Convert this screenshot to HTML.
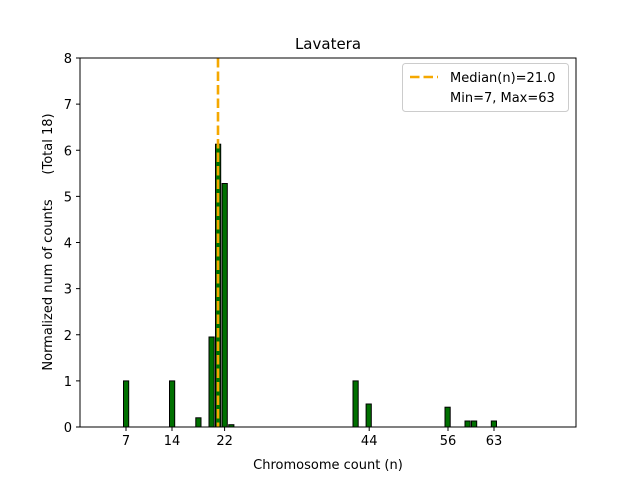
<!DOCTYPE html>
<html><head><style>body{margin:0;background:#fff}</style></head><body>
<svg width="640" height="480" viewBox="0 0 640 480" xmlns="http://www.w3.org/2000/svg" font-family="DejaVu Sans, Liberation Sans, sans-serif">
<rect width="640" height="480" fill="#fff"/>
<g fill="#007000" stroke="#000" stroke-width="1">
<rect x="123.5" y="380.9" width="5.2" height="46.1"/>
<rect x="169.5" y="380.9" width="5.2" height="46.1"/>
<rect x="195.8" y="417.8" width="5.2" height="9.2"/>
<rect x="209" y="337" width="5.2" height="90"/>
<rect x="215.5" y="144.2" width="5.2" height="282.8"/>
<rect x="222.1" y="183.5" width="5.2" height="243.5"/>
<rect x="228.7" y="424.7" width="5.2" height="2.3"/>
<rect x="353" y="380.9" width="5.2" height="46.1"/>
<rect x="366.1" y="404" width="5.2" height="23"/>
<rect x="445" y="407.2" width="5.2" height="19.8"/>
<rect x="465" y="421" width="5.2" height="6"/>
<rect x="471.5" y="421" width="5.2" height="6"/>
<rect x="491.3" y="421" width="5.2" height="6"/>
</g>
<line x1="218" y1="58" x2="218" y2="427" stroke="#f5a800" stroke-width="2.6" stroke-dasharray="9.5,4"/>
<g stroke="#000" stroke-width="1" fill="none">
<rect x="80" y="58" width="496" height="369"/>
<path d="M126 427v4M172 427v4M224.6 427v4M369.2 427v4M448 427v4M494 427v4"/>
<path d="M80 427h-4M80 380.9h-4M80 334.75h-4M80 288.6h-4M80 242.5h-4M80 196.4h-4M80 150.25h-4M80 104.1h-4M80 58h-4"/>
</g>
<g font-size="13" fill="#000" text-anchor="middle">
<text x="126" y="445">7</text><text x="172" y="445">14</text><text x="224.6" y="445">22</text>
<text x="369.2" y="445">44</text><text x="448" y="445">56</text><text x="494" y="445">63</text>
<text x="328" y="469">Chromosome count (n)</text>
<text x="328" y="49" font-size="15">Lavatera</text>
</g>
<g font-size="13" fill="#000" text-anchor="end">
<text x="72" y="432">0</text><text x="72" y="385.9">1</text><text x="72" y="339.75">2</text>
<text x="72" y="293.6">3</text><text x="72" y="247.5">4</text><text x="72" y="201.4">5</text>
<text x="72" y="155.25">6</text><text x="72" y="109.1">7</text><text x="72" y="63">8</text>
</g>
<text transform="translate(52,242) rotate(-90)" font-size="13" text-anchor="middle" xml:space="preserve">Normalized num of counts      (Total 18)</text>
<rect x="402.5" y="63.5" width="166" height="48" rx="3" fill="#fff" stroke="#ccc"/>
<line x1="410" y1="77" x2="438" y2="77" stroke="#f5a800" stroke-width="2.6" stroke-dasharray="9.5,4"/>
<g font-size="13" fill="#000"><text x="450" y="82">Median(n)=21.0</text><text x="450" y="102">Min=7, Max=63</text></g>
</svg>
</body></html>
